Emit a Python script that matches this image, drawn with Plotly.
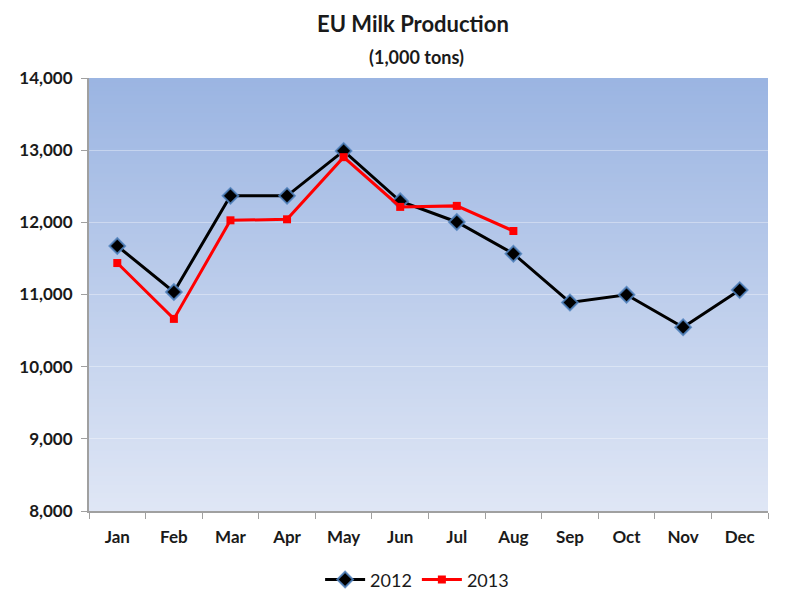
import plotly.graph_objects as go

months = ["Jan", "Feb", "Mar", "Apr", "May", "Jun", "Jul", "Aug", "Sep", "Oct", "Nov", "Dec"]
y2012 = [11672, 11035, 12367, 12367, 12990, 12292, 12005, 11565, 10889, 10996, 10547, 11061]
y2013 = [11436, 10662, 12028, 12042, 12903, 12214, 12228, 11880]
y_ticks = [8000, 9000, 10000, 11000, 12000, 13000, 14000]

FONT = "Lato, 'Open Sans', sans-serif"
TXT = "#1a1a1a"

fig = go.Figure()
fig.add_trace(go.Scatter(
    x=months, y=y2012, name="2012", mode="lines+markers",
    line=dict(color="black", width=3),
    marker=dict(symbol="diamond", size=12, color="black",
                line=dict(color="rgba(79,129,189,0.85)", width=2)),
))
fig.add_trace(go.Scatter(
    x=months[:len(y2013)], y=y2013, name="2013", mode="lines+markers",
    line=dict(color="#FF0000", width=3),
    marker=dict(symbol="square", size=8, color="#FF0000"),
))

# vertical gradient background
n = 100
top = (155, 181, 226)
bot = (223, 230, 245)
shapes = []
for i in range(n):
    t = i / (n - 1)
    c = tuple(round(top[k] + (bot[k] - top[k]) * t) for k in range(3))
    shapes.append(dict(type="rect", xref="x domain", yref="y domain",
                       x0=0, x1=1, y0=max(0, 1 - (i + 1) / n - 0.004), y1=1 - i / n,
                       fillcolor="rgb(%d,%d,%d)" % c, line=dict(width=0),
                       layer="below"))

fig.update_layout(
    width=787, height=591,
    margin=dict(l=89, r=19, t=78, b=80),
    paper_bgcolor="white", plot_bgcolor="rgba(0,0,0,0)",
    shapes=shapes,
    font=dict(family=FONT, color=TXT),
    annotations=[
        dict(text="<b>EU Milk Production</b>", xref="paper", yref="paper",
             x=0.477, y=1, yshift=55, xanchor="center", yanchor="middle",
             showarrow=False, font=dict(size=22, family=FONT, color=TXT)),
        dict(text="<b>(1,000 tons)</b>", xref="paper", yref="paper",
             x=0.482, y=1, yshift=21, xanchor="center", yanchor="middle",
             showarrow=False, font=dict(size=18, family=FONT, color=TXT)),
    ],
    legend=dict(orientation="h", x=0.53, xanchor="center", xref="container",
                y=0.019, yanchor="middle", yref="container",
                itemwidth=40,
                font=dict(size=18, family=FONT, color=TXT),
                bgcolor="rgba(0,0,0,0)"),
    showlegend=True,
)
fig.update_xaxes(
    type="category", range=[-0.5, 11.5], tickson="boundaries", ticks="outside", ticklen=6,
    tickcolor="#A0A0A0", showline=True, linecolor="#A0A0A0", linewidth=2,
    showgrid=False, tickfont=dict(size=17, family=FONT, color=TXT),
    ticklabelstandoff=10, automargin=False,
    tickmode="array", tickvals=months, ticktext=["<b>%s</b>" % m for m in months],
)
fig.update_yaxes(
    range=[8000, 14000], tickmode="array", tickvals=y_ticks,
    ticktext=["<b>{:,}</b>".format(v) for v in y_ticks],
    ticks="outside", ticklen=6, tickcolor="#A0A0A0",
    showline=True, linecolor="#A0A0A0", linewidth=2,
    showgrid=True, gridcolor="rgba(255,255,255,0.35)", gridwidth=1,
    zeroline=False, ticklabelstandoff=5, automargin=False,
    tickfont=dict(size=17, family=FONT, color=TXT),
)

fig.write_html("out.html")
